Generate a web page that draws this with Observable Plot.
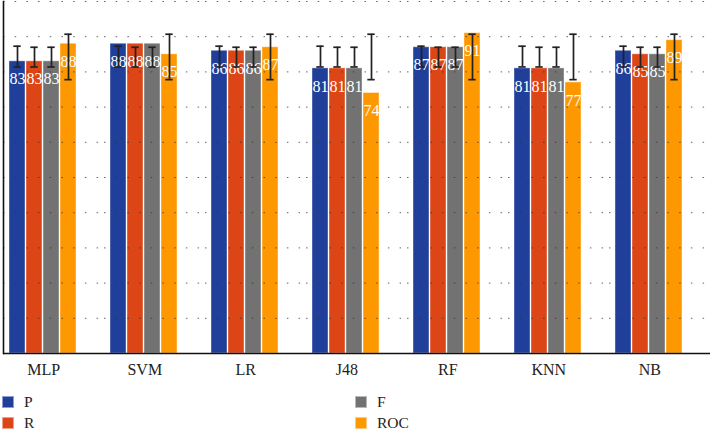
<!DOCTYPE html>
<html>
<head>
<meta charset="utf-8">
<script src="https://cdn.jsdelivr.net/npm/d3@7"></script>
<script src="https://cdn.jsdelivr.net/npm/@observablehq/plot@0.6"></script>
<style>
  html, body { margin: 0; padding: 0; background: #fff; }
  #wrap { position: relative; width: 710px; height: 430px; font-family: "Liberation Serif", "DejaVu Serif", serif; color: #222; }
  #chart svg { display: block; }
  .item { position: absolute; display: flex; align-items: center; height: 12px; font-size: 15.5px; line-height: 12px; }
  .sw { width: 10px; height: 10px; margin-right: 10px; border: 0.5px solid rgba(255,255,255,0.5); flex: none; }
</style>
</head>
<body>
<div id="wrap">
  <div id="chart"></div>
</div>
<script>
const classifiers = ["MLP", "SVM", "LR", "J48", "RF", "KNN", "NB"];
const metrics = ["P", "R", "F", "ROC"];
const valuesP = [83, 88, 86, 81, 87, 81, 86];
const valuesR = [83, 88, 86, 81, 87, 81, 85];
const valuesF = [83, 88, 86, 81, 87, 81, 85];
const valuesROC = [88, 85, 87, 74, 91, 77, 89];
const errLow = [81.4, 81.4, 81.4, 77.8];   // per metric
const errHigh = [87.3, 87.0, 87.0, 90.7];  // per metric
const metricColors = ["#1f3f9a", "#dc4515", "#727272", "#fe9800"];
const yTicks = [10, 20, 30, 40, 50, 60, 70, 80, 90, 100];
const legendLayout = [["P", 2, 396], ["R", 2, 417], ["F", 355, 396], ["ROC", 355, 417]];

const series = [valuesP, valuesR, valuesF, valuesROC];
const rows = [];
classifiers.forEach((c, i) => {
  metrics.forEach((m, j) => {
    rows.push({clf: c, metric: m, value: series[j][i], lo: errLow[j], hi: errHigh[j]});
  });
});

const serif = "'Liberation Serif', 'DejaVu Serif', serif";

const chart = Plot.plot({
  width: 710,
  height: 385,
  marginTop: 1,
  marginBottom: 32,
  marginLeft: 2,
  marginRight: 0,
  style: {background: "#fff", fontFamily: serif},
  fx: {domain: classifiers, padding: 0, label: null},
  x: {domain: metrics, paddingInner: 0.062, paddingOuter: 0.871, align: 0.171, axis: null},
  y: {domain: [0, 100], axis: null},
  color: {domain: metrics, range: metricColors},
  marks: [
    Plot.barY(rows, {fx: "clf", x: "metric", y: "value", fill: "metric",
      stroke: "#fff", strokeOpacity: 0.4, strokeWidth: 1}),
    Plot.ruleY(yTicks, {stroke: "#333", strokeOpacity: 0.75, strokeDasharray: "1.5,10.2"}),
    Plot.text(rows, {fx: "clf", x: "metric", y: "value", text: d => String(d.value),
      dy: 18, fill: "#fff", fontSize: 16, fontFamily: serif}),
    Plot.ruleX(rows, {fx: "clf", x: "metric", y1: "lo", y2: "hi", stroke: "#222", strokeWidth: 1.7}),
    Plot.tickY(rows, {fx: "clf", x: "metric", y: "lo", insetLeft: 4.3, insetRight: 4.3, stroke: "#222", strokeWidth: 1.7}),
    Plot.tickY(rows, {fx: "clf", x: "metric", y: "hi", insetLeft: 4.3, insetRight: 4.3, stroke: "#222", strokeWidth: 1.7}),
    Plot.ruleY([0], {stroke: "#111", strokeWidth: 1.6}),
    Plot.frame({anchor: "left", fx: "MLP", stroke: "#111", strokeWidth: 1.6}),
    Plot.axisFx({anchor: "bottom", tickSize: 0, tickPadding: 10, dx: -10.2, fontSize: 16, fontFamily: serif, fill: "#222", label: null})
  ]
});
document.getElementById("chart").appendChild(chart);

const wrap = document.getElementById("wrap");
legendLayout.forEach(([m, left, top]) => {
  const color = metricColors[metrics.indexOf(m)];
  const item = document.createElement("div");
  item.className = "item";
  item.style.left = left + "px";
  item.style.top = top + "px";
  item.innerHTML = `<div class="sw" style="background:${color}"></div><span>${m}</span>`;
  wrap.appendChild(item);
});
</script>
</body>
</html>
